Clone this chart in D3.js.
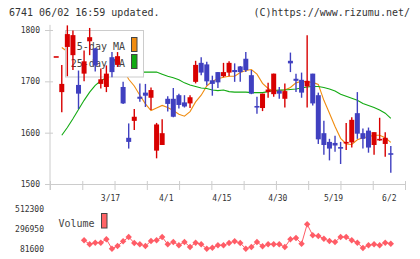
<!DOCTYPE html>
<html>
<head>
<meta charset="utf-8">
<script src="https://cdn.jsdelivr.net/npm/d3@7"></script>
<style>
  body { margin: 0; background: #fff; }
  svg { display: block; }
</style>
</head>
<body>
<div class="chart"></div>
<script>
const width = 420, height = 259;

// one entry per trading day, index 0 .. 60
const open = [1749,1679,1767,1751,1693,1715,1778,1764,1695,1689,
              1747,1732,1689,1590,1623,1670,1678,1668,1565,1576,
              1666,1666,1673,1659,1657,1699,1736,1733,1702,1718,
              1710,1717,1722,1729,1744,1712,1652,1648,1679,1675,
              1682,1666,1740,1705,1703,1690,1715,1673,1599,1582,
              1580,1572,1579,1581,1638,1599,1604,1576,1585,1578,
              1560];
const high = [1749,1732,1809,1799,1721,1760,1804,1765,1725,1731,
              1757,1757,1699,1618,1646,1696,1695,1688,1619,1626,
              1671,1687,1676,1673,1673,1740,1747,1738,1711,1718,
              1736,1739,1735,1730,1757,1722,1670,1676,1697,1715,
              1689,1696,1756,1715,1717,1790,1715,1678,1623,1588,
              1594,1582,1619,1630,1679,1608,1610,1601,1629,1601,
              1574];
const low = [1749,1640,1710,1722,1646,1700,1751,1719,1686,1679,
             1708,1728,1656,1569,1605,1660,1650,1644,1550,1576,
             1641,1630,1647,1649,1648,1696,1712,1692,1672,1687,
             1708,1710,1699,1699,1718,1675,1637,1642,1668,1670,
             1666,1649,1718,1679,1668,1649,1653,1578,1557,1546,
             1563,1539,1566,1571,1588,1569,1561,1557,1584,1553,
             1522];
const close = [1749,1695,1792,1790,1676,1739,1786,1731,1704,1715,
               1718,1749,1657,1582,1631,1666,1672,1683,1616,1599,
               1656,1631,1654,1651,1669,1732,1717,1700,1695,1698,
               1718,1736,1718,1718,1722,1676,1649,1676,1684,1715,
               1676,1681,1735,1701,1678,1701,1657,1587,1576,1569,
               1575,1569,1582,1625,1598,1588,1571,1601,1588,1590,
               1558];
const ma5 = [null,1766,1758,1752,1748,1740,1738,1757,1744,1727,
             1735,1731,1723,1704,1691,1673,1656,1643,1648,1653,
             1649,1643,1636,1632,1641,1660,1673,1691,1700,1705,
             1708,1710,1710,1717,1721,1723,1714,1696,1686,1680,
             1682,1683,1688,1697,1700,1699,1698,1694,1663,1638,
             1612,1589,1578,1577,1586,1590,1592,1595,1595,1590,
             1581];
const ma25 = [null,1595,1610,1627,1645,1663,1679,1692,1701,1707,
              1712,1715,1717,1718,1718,1718,1718,1718,1718,1714,
              1710,1707,1703,1697,1693,1690,1687,1686,1683,1682,
              1683,1680,1679,1679,1679,1678,1678,1678,1680,1682,
              1683,1683,1684,1685,1687,1689,1690,1690,1688,1685,
              1681,1675,1671,1667,1663,1657,1653,1649,1644,1638,
              1628];
const volume = [null,null,null,null,null,
                175300,132200,149400,149400,186000,84800,113900,164500,210800,146200,
                132200,113900,167700,175300,210800,132200,157000,121400,157000,103100,
                149400,132200,84800,95600,121400,121400,146200,164500,146200,84800,
                103100,157000,110700,132200,132200,132200,103100,186000,200000,138700,
                347600,229100,221600,192500,167700,157000,210800,210800,175300,149400,
                92400,121400,132200,121400,149400,138700];

const tickIdx = [10, 20, 30, 40, 50, 60];
const tickLabels = ["3/17", "4/1", "4/15", "4/30", "5/19", "6/2"];
const priceTicks = [1500, 1600, 1700, 1800];
const volTicks = [81600, 296950, 512300];

const mono = "DejaVu Sans Mono, monospace";
const red = "#d80000", blue = "#4040c0", gridColor = "#cccccc", textColor = "#333";
const maColors = ["#f08c10", "#12aa12"];
const volColor = "#ff5c66";

const I = d3.range(close.length);

const x = d3.scaleLinear().domain([0, close.length - 1]).range([56.2, 390.8]);
const y = d3.scaleLinear().domain([1500, 1800]).range([184, 30]);
const grid = d3.scaleLinear().domain([0, 11]).range([50, 405]);
const yv = d3.scaleLinear().domain([81600, 512300]).range([249, 209]);

const svg = d3.select(".chart").append("svg")
    .attr("width", width)
    .attr("height", height)
    .attr("viewBox", [0, 0, width, height])
    .attr("font-family", mono);

// header
svg.append("text")
    .attr("x", 9).attr("y", 16)
    .attr("font-size", 10).attr("fill", textColor)
    .text("6741 06/02 16:59 updated.");
svg.append("text")
    .attr("x", 410).attr("y", 16)
    .attr("font-size", 10).attr("fill", textColor)
    .attr("text-anchor", "end")
    .text("(C)https://www.rizumu.net/");

// y axis
svg.append("line")
    .attr("x1", 50).attr("x2", 50)
    .attr("y1", y(1810)).attr("y2", 190)
    .attr("stroke", gridColor);

svg.append("g")
    .attr("transform", "translate(50,0)")
    .call(d3.axisLeft(y).tickValues(priceTicks).tickFormat(d3.format("d"))
        .tickSizeInner(5).tickSizeOuter(0).tickPadding(5))
    .call(g => g.select(".domain").remove())
    .call(g => g.selectAll(".tick line").attr("x1", 3).attr("stroke", gridColor))
    .call(g => g.selectAll(".tick text").attr("fill", textColor))
    .attr("font-family", mono)
    .attr("font-size", 8);

// x axis
svg.append("g")
    .attr("transform", "translate(0,184)")
    .call(d3.axisBottom(grid).tickValues(d3.range(12)).tickSizeInner(6).tickSizeOuter(0).tickFormat(""))
    .call(g => g.select(".domain").attr("stroke", gridColor))
    .call(g => g.selectAll(".tick line").attr("y1", -3).attr("stroke", gridColor));

svg.append("g")
    .attr("font-size", 8)
    .attr("fill", textColor)
    .attr("text-anchor", "middle")
    .selectAll("text")
    .data(tickIdx)
    .join("text")
    .attr("x", d => x(d) - 1.5)
    .attr("y", 201)
    .text((d, k) => tickLabels[k]);

// moving averages
[ma5, ma25].forEach((ma, k) => {
  const line = d3.line()
      .defined(i => ma[i] != null)
      .x(i => x(i))
      .y(i => y(ma[i]));
  svg.append("path")
      .attr("fill", "none")
      .attr("stroke", maColors[k])
      .attr("stroke-width", 1.1)
      .attr("d", line(I));
});

// legend box (covers the lines, candles sit on top)
const legend = svg.append("g");
legend.append("rect")
    .attr("x", 65.5).attr("y", 30.5)
    .attr("width", 78).attr("height", 46.5)
    .attr("fill", "#fff")
    .attr("stroke", gridColor);
["5-day MA", "25-day MA"].forEach((t, k) => {
  legend.append("text")
      .attr("x", 125).attr("y", 50 + k * 17)
      .attr("font-size", 10).attr("fill", "#444")
      .attr("text-anchor", "end")
      .text(t);
  legend.append("rect")
      .attr("x", 131.5).attr("y", 37.5 + k * 17)
      .attr("width", 5.5).attr("height", 14)
      .attr("fill", maColors[k])
      .attr("stroke", "#444");
});

// candles
const candle = svg.append("g")
    .selectAll("g")
    .data(I)
    .join("g")
    .attr("fill", i => close[i] >= open[i] ? red : blue)
    .attr("stroke", i => close[i] >= open[i] ? red : blue);

candle.append("line")
    .attr("x1", i => x(i)).attr("x2", i => x(i))
    .attr("y1", i => y(high[i])).attr("y2", i => y(low[i]))
    .attr("stroke-width", 1.4);

candle.append("rect")
    .attr("stroke", "none")
    .attr("x", i => x(i) - 2.5)
    .attr("width", 5)
    .attr("y", i => y(Math.max(open[i], close[i])))
    .attr("height", i => Math.max(1.6, Math.abs(y(open[i]) - y(close[i]))));

// volume
svg.append("g")
    .attr("font-size", 8)
    .attr("fill", textColor)
    .attr("text-anchor", "end")
    .selectAll("text")
    .data(volTicks)
    .join("text")
    .attr("x", 44)
    .attr("y", d => yv(d))
    .attr("dy", "0.32em")
    .text(d => d);

svg.append("text")
    .attr("x", 58.5).attr("y", 226.5)
    .attr("font-size", 10).attr("fill", "#444")
    .text("Volume");
svg.append("rect")
    .attr("x", 101.5).attr("y", 213.5)
    .attr("width", 5.5).attr("height", 14.5)
    .attr("fill", "#ff6466")
    .attr("stroke", "#444");

const V = I.filter(i => volume[i] != null);

svg.append("path")
    .attr("fill", "none")
    .attr("stroke", volColor)
    .attr("stroke-width", 1)
    .attr("d", d3.line().x(i => x(i)).y(i => yv(volume[i]))(V));

svg.append("g")
    .attr("fill", volColor)
    .selectAll("path")
    .data(V)
    .join("path")
    .attr("transform", i => `translate(${x(i)},${yv(volume[i])})`)
    .attr("d", "M0,-3.2L3.2,0L0,3.2L-3.2,0Z");
</script>
</body>
</html>
